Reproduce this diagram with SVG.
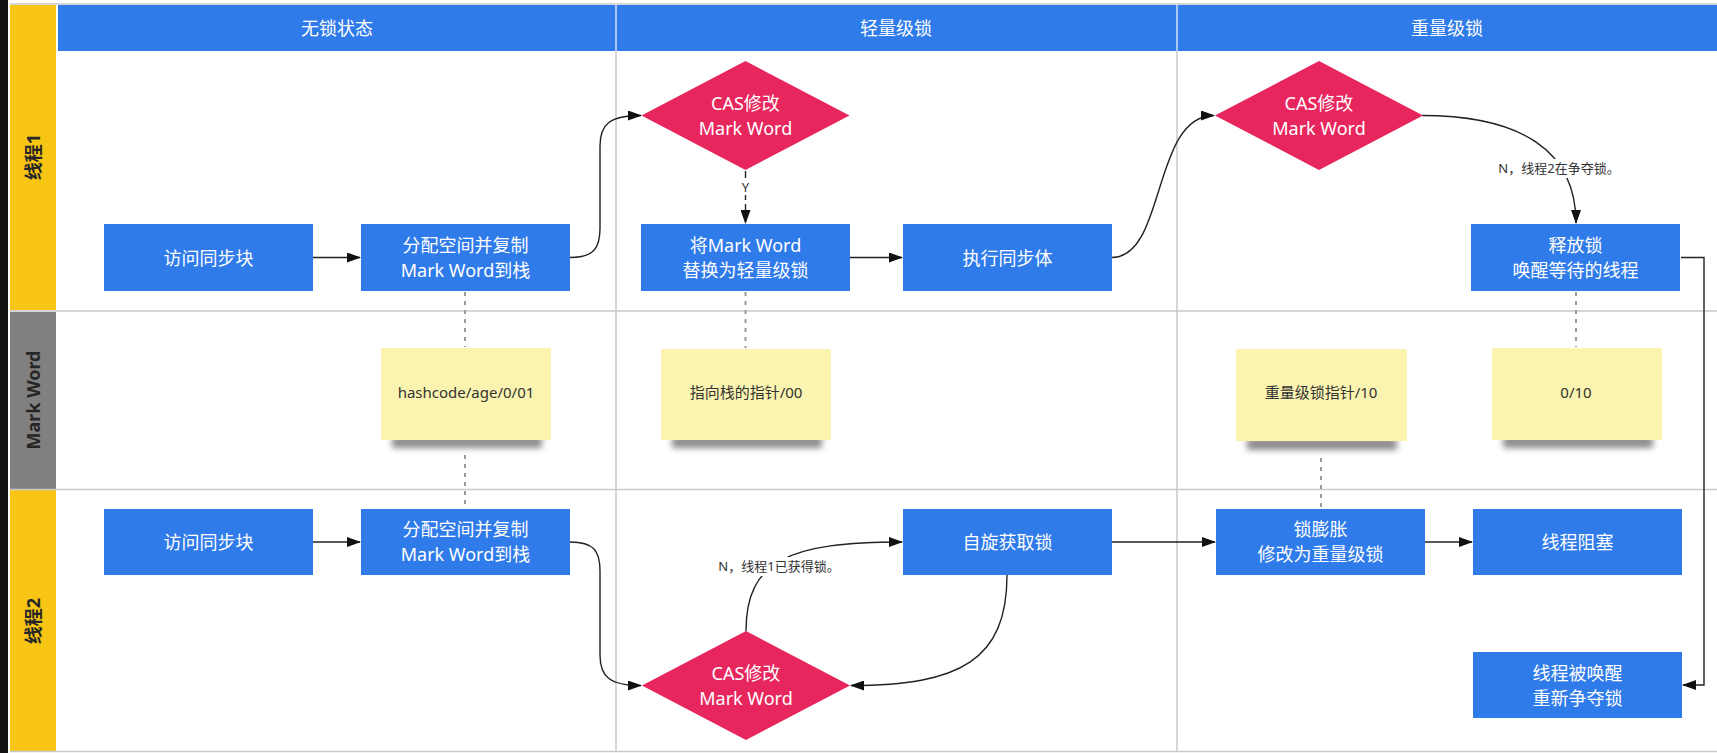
<svg xmlns="http://www.w3.org/2000/svg" width="1717" height="753" viewBox="0 0 1717 753">
<style>
.bg{fill:#ffffff}
.grid{stroke:#c9c9c9;stroke-width:1.5;fill:none}
.hdr{fill:#2f7bea}
.hdrtxt{fill:#ffffff;font-family:"Noto Sans","Noto Sans CJK SC",sans-serif;font-size:18px;text-anchor:middle;dominant-baseline:central}
.lane{font-family:"Noto Sans","Noto Sans CJK SC",sans-serif;font-size:18px;font-weight:bold;fill:#262626;text-anchor:middle;dominant-baseline:central}
.box{fill:#2f7bea}
.dia{fill:#e8265e}
.ntxt{fill:#ffffff;font-family:"Noto Sans","Noto Sans CJK SC",sans-serif;font-size:18px;text-anchor:middle;dominant-baseline:central}
.note{fill:#faf4b0}
.notetxt{fill:#333333;font-family:"Noto Sans","Noto Sans CJK SC",sans-serif;font-size:15px;text-anchor:middle;dominant-baseline:central}
.conn{stroke:#222222;stroke-width:1.4;fill:none}
.dot{stroke:#9a9a9a;stroke-width:2;stroke-dasharray:4 5;fill:none}
.lbl{fill:#333333;font-family:"Noto Sans","Noto Sans CJK SC",sans-serif;font-size:13px;text-anchor:middle;dominant-baseline:central}
</style>
<defs>
<marker id="arr" markerUnits="userSpaceOnUse" markerWidth="14" markerHeight="10" refX="13" refY="5" orient="auto">
<path d="M0,0 L14,5 L0,10 z" fill="#111111"/>
</marker>
<filter id="sh" x="-20%" y="-100%" width="140%" height="300%">
<feGaussianBlur stdDeviation="3"/>
</filter>
</defs>
<rect class="bg" x="0" y="0" width="1717" height="753"/>
<rect x="0" y="0" width="8" height="753" fill="#111111"/>

<g id="lanes">
<rect x="10" y="5" width="46" height="305" fill="#f8c515"/>
<rect x="10" y="312" width="46" height="177" fill="#808080"/>
<rect x="10" y="490" width="46" height="261" fill="#f8c515"/>
<text class="lane" transform="rotate(-90 33 157)" x="33" y="157">线程1</text>
<text class="lane" transform="rotate(-90 33 400)" x="33" y="400">Mark Word</text>
<text class="lane" transform="rotate(-90 33 621)" x="33" y="621">线程2</text>
</g>

<g id="grid">
<line class="grid" x1="10" y1="4" x2="1717" y2="4" stroke="#e2e8f0"/>
<line class="grid" x1="10" y1="311" x2="1717" y2="311"/>
<line class="grid" x1="10" y1="489.5" x2="1717" y2="489.5"/>
<line class="grid" x1="10" y1="751.5" x2="1717" y2="751.5"/>
<line class="grid" x1="616" y1="51" x2="616" y2="752"/>
<line class="grid" x1="1177" y1="51" x2="1177" y2="752"/>
</g>

<g id="header">
<rect class="hdr" x="58" y="5" width="1659" height="46"/>
<line x1="616" y1="5" x2="616" y2="51" stroke="#cfe0fb" stroke-width="1.5"/>
<line x1="1177" y1="5" x2="1177" y2="51" stroke="#cfe0fb" stroke-width="1.5"/>
<text class="hdrtxt" x="337" y="28">无锁状态</text>
<text class="hdrtxt" x="896" y="28">轻量级锁</text>
<text class="hdrtxt" x="1447" y="28">重量级锁</text>
</g>

<g id="connectors">
<line class="dot" x1="465" y1="292" x2="465" y2="347"/>
<line class="dot" x1="465" y1="455" x2="465" y2="508"/>
<line class="dot" x1="745.5" y1="292" x2="745.5" y2="348"/>
<line class="dot" x1="1576" y1="292" x2="1576" y2="347"/>
<line class="dot" x1="1321" y1="458" x2="1321" y2="508"/>
<line class="conn" x1="313" y1="257.5" x2="360" y2="257.5" marker-end="url(#arr)"/>
<path class="conn" d="M570,257.5 C594,257.5 600,248 600,228 L600,146 C600,124 610,115.5 641,115.5" marker-end="url(#arr)"/>
<line class="conn" x1="745.5" y1="171" x2="745.5" y2="223" stroke-dasharray="7 4" marker-end="url(#arr)"/>
<rect x="738" y="179" width="15" height="16" fill="#ffffff"/>
<text class="lbl" x="745.5" y="187">Y</text>
<line class="conn" x1="850" y1="257.5" x2="902" y2="257.5" marker-end="url(#arr)"/>
<path class="conn" d="M1112,257.5 C1166,257.5 1152,115.5 1214,115.5" marker-end="url(#arr)"/>
<path class="conn" d="M1422,115.5 C1520,115.5 1576,150 1576,223" marker-end="url(#arr)"/>
<rect x="1495" y="159" width="128" height="19" fill="#ffffff"/>
<text class="lbl" x="1559" y="168">N，线程2在争夺锁。</text>
<polyline class="conn" points="1681,257.5 1704,257.5 1704,685 1683,685" stroke="#555555" marker-end="url(#arr)"/>
<line class="conn" x1="313" y1="542" x2="360" y2="542" marker-end="url(#arr)"/>
<path class="conn" d="M570,542 C594,542 600,551 600,571 L600,655 C600,677 610,685.5 641,685.5" marker-end="url(#arr)"/>
<path class="conn" d="M746,631 C746,560 790,542 902,542" marker-end="url(#arr)"/>
<rect x="714" y="557" width="130" height="19" fill="#ffffff"/>
<text class="lbl" x="779" y="566">N，线程1已获得锁。</text>
<path class="conn" d="M1007,575 C1007,660 960,685.5 851,685.5" marker-end="url(#arr)"/>
<line class="conn" x1="1112" y1="542" x2="1215" y2="542" marker-end="url(#arr)"/>
<line class="conn" x1="1425" y1="542" x2="1472" y2="542" marker-end="url(#arr)"/>
</g>

<g id="t1-access">
<rect class="box" x="104" y="224" width="209" height="67"/>
<text class="ntxt" x="208.5" y="257.5">访问同步块</text>
</g>
<g id="t1-copy">
<rect class="box" x="361" y="224" width="209" height="67"/>
<text class="ntxt" x="465.5" y="245">分配空间并复制</text>
<text class="ntxt" x="465.5" y="270">Mark Word到栈</text>
</g>
<g id="t1-cas">
<polygon class="dia" points="745.5,61 849.5,115.5 745.5,170 641.5,115.5"/>
<text class="ntxt" x="745.5" y="103">CAS修改</text>
<text class="ntxt" x="745.5" y="128">Mark Word</text>
</g>
<g id="t1-replace">
<rect class="box" x="641" y="224" width="209" height="67"/>
<text class="ntxt" x="745.5" y="245">将Mark Word</text>
<text class="ntxt" x="745.5" y="270">替换为轻量级锁</text>
</g>
<g id="t1-exec">
<rect class="box" x="903" y="224" width="209" height="67"/>
<text class="ntxt" x="1007.5" y="257.5">执行同步体</text>
</g>
<g id="t1-cas2">
<polygon class="dia" points="1319,61 1423,115.5 1319,170 1215,115.5"/>
<text class="ntxt" x="1319" y="103">CAS修改</text>
<text class="ntxt" x="1319" y="128">Mark Word</text>
</g>
<g id="t1-release">
<rect class="box" x="1471" y="224" width="209" height="67"/>
<text class="ntxt" x="1575.5" y="245">释放锁</text>
<text class="ntxt" x="1575.5" y="270">唤醒等待的线程</text>
</g>

<g id="mw-hash">
<rect x="392" y="436" width="150" height="12" fill="#000000" opacity="0.45" filter="url(#sh)"/>
<rect class="note" x="381" y="348" width="170" height="92"/>
<text class="notetxt" x="466" y="392">hashcode/age/0/01</text>
</g>
<g id="mw-ptr">
<rect x="672" y="436" width="150" height="12" fill="#000000" opacity="0.45" filter="url(#sh)"/>
<rect class="note" x="661" y="349" width="170" height="91"/>
<text class="notetxt" x="746" y="392">指向栈的指针/00</text>
</g>
<g id="mw-heavy">
<rect x="1247" y="438" width="150" height="12" fill="#000000" opacity="0.45" filter="url(#sh)"/>
<rect class="note" x="1236" y="349" width="171" height="92"/>
<text class="notetxt" x="1321" y="392">重量级锁指针/10</text>
</g>
<g id="mw-010">
<rect x="1503" y="436" width="150" height="12" fill="#000000" opacity="0.45" filter="url(#sh)"/>
<rect class="note" x="1492" y="348" width="170" height="92"/>
<text class="notetxt" x="1576" y="392">0/10</text>
</g>

<g id="t2-access">
<rect class="box" x="104" y="509" width="209" height="66"/>
<text class="ntxt" x="208.5" y="542">访问同步块</text>
</g>
<g id="t2-copy">
<rect class="box" x="361" y="509" width="209" height="66"/>
<text class="ntxt" x="465.5" y="529">分配空间并复制</text>
<text class="ntxt" x="465.5" y="554">Mark Word到栈</text>
</g>
<g id="t2-cas">
<polygon class="dia" points="746,631 850,685.5 746,740 642,685.5"/>
<text class="ntxt" x="746" y="673">CAS修改</text>
<text class="ntxt" x="746" y="698">Mark Word</text>
</g>
<g id="t2-spin">
<rect class="box" x="903" y="509" width="209" height="66"/>
<text class="ntxt" x="1007.5" y="542">自旋获取锁</text>
</g>
<g id="t2-inflate">
<rect class="box" x="1216" y="509" width="209" height="66"/>
<text class="ntxt" x="1320.5" y="529">锁膨胀</text>
<text class="ntxt" x="1320.5" y="554">修改为重量级锁</text>
</g>
<g id="t2-block">
<rect class="box" x="1473" y="509" width="209" height="66"/>
<text class="ntxt" x="1577.5" y="542">线程阻塞</text>
</g>
<g id="t2-wake">
<rect class="box" x="1473" y="652" width="209" height="66"/>
<text class="ntxt" x="1577.5" y="673">线程被唤醒</text>
<text class="ntxt" x="1577.5" y="698">重新争夺锁</text>
</g>
</svg>
